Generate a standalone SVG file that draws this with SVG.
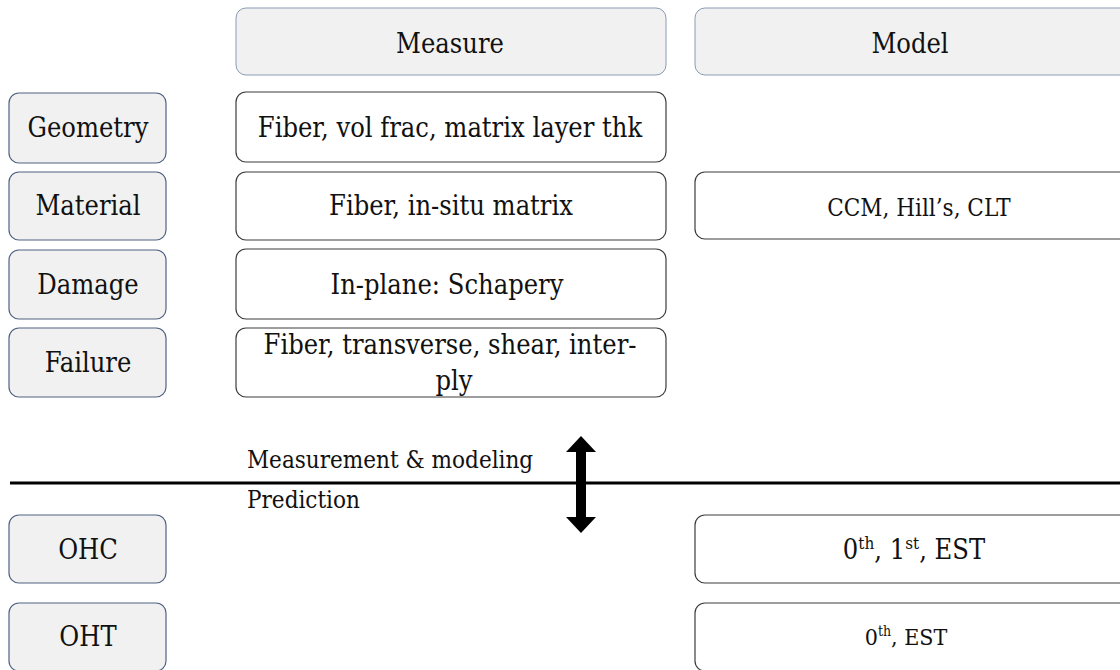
<svg xmlns="http://www.w3.org/2000/svg" width="1120" height="670" viewBox="0 0 1120 670">
<style>
text{font-family:"DejaVu Serif Condensed","DejaVu Serif",serif;font-stretch:condensed;fill:#111;text-anchor:middle}
.hdr{fill:#f1f1f1;stroke:#8a9bb5;stroke-width:1}
.lbl{fill:#f1f1f1;stroke:#4f6283;stroke-width:1.2}
.box{fill:#fff;stroke:#3c3c3c;stroke-width:1.2}
.t27{font-size:27px}
.t24{font-size:24px}
.t23{font-size:23px}
.sup{font-size:17px}
.sup2{font-size:14px}
</style>
<rect width="1120" height="670" fill="#fff"/>

<g id="hdr-measure"><rect class="hdr" x="236" y="8" width="430" height="67" rx="10"/><text class="t27" x="450" y="53">Measure</text></g>
<g id="hdr-model"><rect class="hdr" x="695" y="8" width="440" height="67" rx="10"/><text class="t27" x="910" y="53">Model</text></g>

<g id="lbl-geometry"><rect class="lbl" x="9" y="93" width="157" height="70" rx="10"/><text class="t27" x="88" y="137">Geometry</text></g>
<g id="lbl-material"><rect class="lbl" x="9" y="172" width="157" height="68" rx="10"/><text class="t27" x="88" y="215">Material</text></g>
<g id="lbl-damage"><rect class="lbl" x="9" y="250" width="157" height="69" rx="10"/><text class="t27" x="88" y="294">Damage</text></g>
<g id="lbl-failure"><rect class="lbl" x="9" y="328" width="157" height="69" rx="10"/><text class="t27" x="88" y="372">Failure</text></g>
<g id="lbl-ohc"><rect class="lbl" x="9" y="515" width="157" height="68" rx="10"/><text class="t27" x="88" y="559">OHC</text></g>
<g id="lbl-oht"><rect class="lbl" x="9" y="603" width="157" height="68" rx="10"/><text class="t27" x="88" y="646">OHT</text></g>

<g id="m-geometry"><rect class="box" x="236" y="92" width="430" height="70" rx="10"/><text class="t27" x="450" y="137">Fiber, vol frac, matrix layer thk</text></g>
<g id="m-material"><rect class="box" x="236" y="172" width="430" height="68" rx="10"/><text class="t27" x="451" y="215">Fiber, in-situ matrix</text></g>
<g id="m-damage"><rect class="box" x="236" y="249" width="430" height="70" rx="10"/><text class="t27" x="447" y="294">In-plane: Schapery</text></g>
<g id="m-failure"><rect class="box" x="236" y="328" width="430" height="69" rx="10"/><text class="t27" x="450" y="354">Fiber, transverse, shear, inter-</text><text class="t27" x="454" y="390">ply</text></g>

<g id="mod-material"><rect class="box" x="695" y="172" width="440" height="67" rx="10"/><text class="t24" x="919" y="216">CCM, Hill’s, CLT</text></g>
<g id="mod-ohc"><rect class="box" x="695" y="515" width="440" height="68" rx="10"/><text class="t27" x="914" y="559">0<tspan class="sup" dy="-10">th</tspan><tspan dy="10">, 1</tspan><tspan class="sup" dy="-10">st</tspan><tspan dy="10">, EST</tspan></text></g>
<g id="mod-oht"><rect class="box" x="695" y="603" width="440" height="68" rx="10"/><text class="t23" x="906" y="645">0<tspan class="sup2" dy="-9">th</tspan><tspan dy="9">, EST</tspan></text></g>

<g id="divider">
<line x1="10" y1="483" x2="1120" y2="483" stroke="#000" stroke-width="3"/>
<text class="t24" x="247" y="468" style="text-anchor:start">Measurement &amp; modeling</text>
<text class="t24" x="247" y="508" style="text-anchor:start">Prediction</text>
</g>

<g id="connectors">
<path d="M581 436 L596 452 L586 452 L586 517 L596 517 L581 533 L566 517 L576 517 L576 452 L566 452 Z" fill="#000"/>
</g>
</svg>
